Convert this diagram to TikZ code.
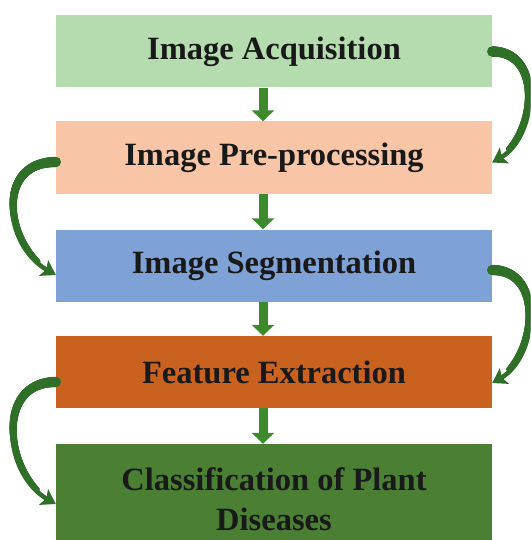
\documentclass[tikz,border=0pt]{standalone}
\usepackage{fontspec}
\setmainfont{Liberation Serif}
\usetikzlibrary{positioning,arrows.meta,decorations.markings}
\definecolor{coloracq}{HTML}{B4DCAE}
\definecolor{colorpre}{HTML}{F8C6A6}
\definecolor{colorseg}{HTML}{7EA1D6}
\definecolor{colorfeat}{HTML}{C9621F}
\definecolor{colorcls}{HTML}{4A7F34}
\definecolor{colorarr}{HTML}{3C8A2C}
\definecolor{colorloop}{HTML}{2F6F27}
\tikzset{
  stage/.style={draw=none, inner sep=0pt, minimum width=436pt, minimum height=72pt,
    font=\fontsize{32.5}{40}\selectfont\bfseries, text=black!90, align=center},
  edgedown/.style={colorarr, line width=9pt, -{Triangle[width=22pt,length=11pt]}},
  edgeloop/.style={colorloop, line width=4.5pt, -{Stealth[width=18pt,length=14pt,inset=3pt]}},
  taper/.style={decorate, decoration={markings,
      mark=between positions 0 and 0.85 step 0.5pt with
      {\fill[colorloop] (0,0) circle
        ({max(2.2pt,5.2pt-0.022*\pgfkeysvalueof{/pgf/decoration/mark info/distance from start})});}}}
}
\newcommand\sideloop[3]{%
  \path[taper] #1 to[#3] #2;
  \draw[edgeloop] #1 to[#3] #2;
}

\begin{document}
\begin{tikzpicture}[x=1pt,y=-1pt]
\useasboundingbox (0,0) rectangle (530,540);
\clip (0,0) rectangle (530,540);

\node[stage, fill=coloracq](acq) at (274,51.5)
{Image Acquisition};

\node[stage, fill=colorpre](pre) at (274,157.5)
{Image Pre-processing};

\node[stage, fill=colorseg](seg) at (274,265.5)
{Image Segmentation};

\node[stage, fill=colorfeat](feat) at (274,372)
{Feature Extraction};

\node[stage, fill=colorcls, minimum height=110pt](cls) at (274,499)
{Classification of Plant\\Diseases};

% straight steps
\draw[edgedown] ([xshift=-11pt]acq.south) -- ([xshift=-11pt]pre.north);
\draw[edgedown] ([xshift=-11pt]pre.south) -- ([xshift=-11pt]seg.north);
\draw[edgedown] ([xshift=-11pt]seg.south) -- ([xshift=-11pt]feat.north);
\draw[edgedown] ([xshift=-11pt]feat.south) -- ([xshift=-11pt]cls.north);

% side loops
\sideloop{(acq.east)}{([yshift=-5pt]pre.east)}{out=0, in=30, looseness=1.2}
\sideloop{([yshift=-4.5pt]pre.west)}{([yshift=-9.5pt]seg.west)}{out=180, in=150, looseness=1.38}
\sideloop{([yshift=-4.5pt]seg.east)}{([yshift=-11pt]feat.east)}{out=0, in=30, looseness=1.2}
\sideloop{([yshift=-10pt]feat.west)}{([yshift=-5pt]cls.west)}{out=180, in=150, looseness=1.28}
\end{tikzpicture}
\end{document}
